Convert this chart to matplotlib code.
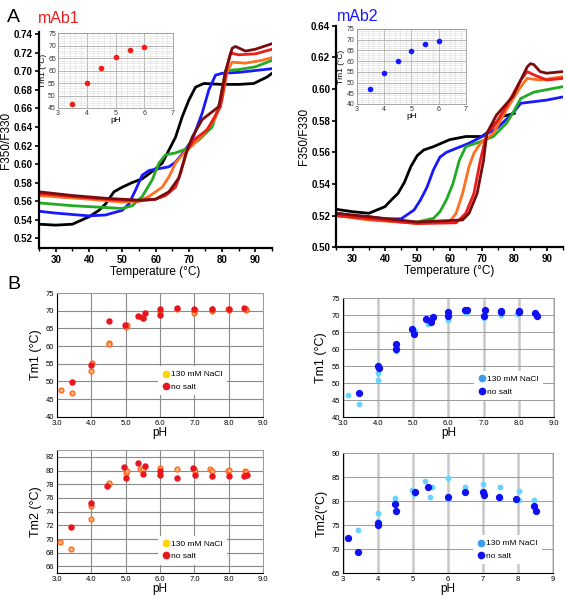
import matplotlib
matplotlib.use("Agg")
import matplotlib.pyplot as plt
from matplotlib.ticker import MultipleLocator, AutoMinorLocator, FormatStrFormatter
from matplotlib.lines import Line2D

plt.rcParams['font.family'] = ['Liberation Sans', 'DejaVu Sans']

# ---- Panel A: unfolding curves, mAb1 ----
black1_t = [25, 30, 35, 40, 43, 45, 47.5, 50, 53, 56, 59, 62, 64, 66, 68, 70, 72, 74.5, 80, 85, 89.5, 93.5, 95]
black1_v = [0.535, 0.534, 0.535, 0.543, 0.550, 0.557, 0.570, 0.575, 0.580, 0.584, 0.592, 0.601, 0.615, 0.629,
            0.651, 0.669, 0.683, 0.687, 0.686, 0.686, 0.687, 0.694, 0.698]
blue1_t = [25, 30, 40, 45, 50, 52, 54, 56, 58, 61, 64, 66, 68, 71, 74, 76, 78, 80, 85, 90, 95]
blue1_v = [0.549, 0.547, 0.544, 0.545, 0.550, 0.557, 0.572, 0.588, 0.593, 0.595, 0.597, 0.602, 0.611, 0.626,
           0.655, 0.680, 0.696, 0.698, 0.699, 0.701, 0.703]
green1_t = [25, 35, 45, 50, 53, 56, 59, 61, 63, 66, 69, 73, 77, 79.5, 81, 85, 90, 95]
green1_v = [0.558, 0.555, 0.553, 0.552, 0.555, 0.565, 0.583, 0.601, 0.610, 0.612, 0.616, 0.626, 0.640, 0.669,
            0.701, 0.702, 0.705, 0.712]
orange1_t = [25, 40, 50, 55, 58, 62, 64, 66, 68, 71, 75, 78, 80, 81.5, 83, 87, 92, 95]
orange1_v = [0.566, 0.562, 0.559, 0.560, 0.565, 0.575, 0.586, 0.601, 0.610, 0.620, 0.635, 0.650, 0.670, 0.700,
             0.710, 0.709, 0.712, 0.715]
red1_t = [25, 35, 45, 55, 60, 63, 66, 67.5, 69.5, 71.5, 75.5, 79.5, 81.5, 82.5, 85, 90, 95]
red1_v = [0.568, 0.565, 0.562, 0.560, 0.562, 0.566, 0.575, 0.590, 0.615, 0.626, 0.637, 0.662, 0.705, 0.720,
          0.718, 0.719, 0.724]
darkred1_t = [25, 35, 45, 55, 60, 64, 67, 69, 71, 74, 79, 81, 83, 84, 87, 90, 95]
darkred1_v = [0.570, 0.566, 0.563, 0.561, 0.562, 0.570, 0.585, 0.610, 0.629, 0.648, 0.662, 0.700, 0.725, 0.727,
              0.722, 0.724, 0.730]

# ---- Panel A: unfolding curves, mAb2 ----
black2_t = [25, 30, 35, 38, 40, 42, 44, 46, 48, 50, 52, 55, 60, 65, 70, 72, 74, 76, 80]
black2_v = [0.524, 0.5225, 0.5215, 0.524, 0.5257, 0.530, 0.534, 0.541, 0.551, 0.558, 0.5615, 0.5636, 0.568,
            0.570, 0.570, 0.573, 0.578, 0.5825, 0.5846]
blue2_t = [25, 30, 35, 40, 45, 49, 51, 53, 55, 57, 59, 62, 66, 70, 74.5, 79.5, 82, 86, 90, 95]
blue2_v = [0.5215, 0.520, 0.5194, 0.518, 0.518, 0.5236, 0.530, 0.538, 0.549, 0.557, 0.560, 0.5625, 0.5657,
           0.570, 0.575, 0.5846, 0.591, 0.592, 0.593, 0.595]
green2_t = [25, 35, 45, 50, 55, 57, 59, 61, 63, 65, 69.5, 73.5, 77.5, 79.5, 82, 86, 95]
green2_v = [0.5215, 0.518, 0.516, 0.516, 0.5183, 0.5225, 0.530, 0.540, 0.555, 0.5636, 0.5667, 0.570, 0.5783,
            0.5846, 0.594, 0.598, 0.6015]
orange2_t = [25, 35, 50, 60, 62, 64, 66, 67.5, 69.5, 73.5, 77.5, 82, 84, 88, 95]
orange2_v = [0.520, 0.5173, 0.5152, 0.5162, 0.5215, 0.534, 0.551, 0.5594, 0.5657, 0.572, 0.5867, 0.6015,
             0.6067, 0.6057, 0.6078]
red2_t = [25, 50, 62, 65, 67.5, 69.5, 71.5, 73.5, 77.5, 82, 84, 86, 90, 95]
red2_v = [0.520, 0.515, 0.5155, 0.5215, 0.534, 0.555, 0.572, 0.576, 0.589, 0.6057, 0.611, 0.609, 0.6057, 0.6067]
darkred2_t = [25, 50, 64, 66, 68.5, 70.5, 71.5, 74.5, 79.5, 84, 85, 86, 88, 90, 95]
darkred2_v = [0.5215, 0.516, 0.5173, 0.5215, 0.534, 0.555, 0.572, 0.5836, 0.5952, 0.614, 0.616, 0.6155,
              0.611, 0.610, 0.611]

# ---- insets ----
inset_ph = [3.5, 4.0, 4.5, 5.0, 5.5, 6.0]
inset1_tm = [46.5, 55, 61, 65.5, 68.3, 69.5]
inset2_tm = [47, 54.5, 60, 64.5, 68, 69.5]

# ---- Panel B: mAb1 Tm1 ----
b1_tm1_ph_nosalt = [3.45, 4.0, 4.5, 4.97, 5.37, 5.5, 5.55, 6.0, 6.0, 6.5, 7.0, 7.5, 8.0, 8.45]
b1_tm1_nosalt = [49.7, 54.7, 67.2, 65.9, 68.5, 68.0, 69.3, 70.5, 68.9, 70.7, 70.6, 70.6, 70.5, 70.7]
b1_tm1_ph_salt = [3.12, 3.45, 4.02, 4.0, 4.5, 4.52, 5.0, 5.05, 5.45, 5.5, 6.0, 6.5, 7.0, 7.02, 7.5, 7.5,
                  8.0, 7.97, 8.5, 8.5]
b1_tm1_salt = [47.5, 46.6, 55.2, 53.0, 61.0, 60.5, 65.3, 66.0, 68.3, 68.0, 69.7, 70.4, 69.3, 70.3, 70.0, 70.5,
               70.3, 70.4, 70.3, 70.6]

# ---- Panel B: mAb2 Tm1 ----
b2_tm1_ph_nosalt = [3.45, 4.0, 4.02, 4.5, 4.5, 4.97, 5.02, 5.37, 5.5, 5.55, 6.0, 6.0, 6.47, 6.53, 7.0, 7.03,
                    7.5, 7.5, 8.0, 8.0, 8.47, 8.52]
b2_tm1_nosalt = [47.0, 55.0, 54.5, 61.4, 60.0, 66.0, 64.6, 68.9, 67.9, 69.4, 71.1, 69.7, 71.5, 71.5, 69.9, 71.6,
                 71.4, 71.0, 71.3, 70.9, 70.8, 69.8]
b2_tm1_ph_salt = [3.15, 3.45, 4.0, 4.0, 4.52, 5.05, 5.42, 6.0, 6.5, 7.0, 7.5, 7.95, 8.5]
b2_tm1_salt = [46.4, 43.9, 52.9, 51.0, 59.5, 65.5, 67.5, 68.7, 70.7, 69.3, 70.0, 70.4, 70.6]

# ---- Panel B: mAb1 Tm2 ----
b1_tm2_ph_nosalt = [3.42, 4.0, 4.47, 4.95, 5.0, 5.35, 5.5, 5.55, 6.0, 6.0, 6.5, 6.97, 7.02, 7.5, 8.0, 8.45, 8.52]
b1_tm2_nosalt = [71.7, 75.2, 77.7, 80.5, 78.9, 81.05, 79.45, 80.7, 79.9, 79.3, 78.9, 80.4, 79.4, 79.2, 79.2,
                 79.2, 79.4]
b1_tm2_ph_salt = [3.1, 3.42, 4.0, 4.0, 4.5, 4.52, 5.0, 5.05, 5.42, 5.5, 6.0, 6.5, 7.0, 7.02, 7.47, 7.5,
                  7.97, 8.0, 8.47, 8.5]
b1_tm2_salt = [69.5, 68.6, 74.8, 72.9, 78.0, 78.2, 79.6, 80.0, 80.3, 80.3, 80.4, 80.2, 80.2, 80.0, 80.2, 79.9,
               79.9, 80.1, 79.9, 79.8]

# ---- Panel B: mAb2 Tm2 ----
b2_tm2_ph_nosalt = [3.15, 3.45, 4.0, 4.0, 4.5, 4.53, 5.05, 5.42, 6.0, 6.5, 7.0, 7.02, 7.47, 7.95, 8.47, 8.52]
b2_tm2_nosalt = [72.4, 69.5, 75.5, 75.0, 79.5, 78.0, 82.0, 83.0, 81.0, 82.0, 82.0, 81.3, 81.0, 80.5, 79.0, 78.0]
b2_tm2_ph_salt = [3.45, 4.0, 4.0, 4.5, 4.5, 4.97, 5.02, 5.35, 5.5, 5.55, 6.0, 6.0, 6.5, 7.0, 7.02, 7.5, 7.5,
                  8.02, 8.02, 8.45]
b2_tm2_salt = [74.0, 77.6, 76.0, 80.6, 80.0, 82.4, 81.5, 84.2, 81.0, 83.0, 84.9, 80.5, 83.0, 83.6, 82.0, 83.0,
               80.7, 82.2, 80.2, 80.2]

darkred = '#7a0c0c'
red = '#ee1c1c'
orange = '#ff7020'
green = '#22aa22'
blue = '#1818ff'

fig = plt.figure(figsize=(5.66, 5.99), dpi=100)


def style_a(ax, ylim, yticks):
    ax.set_xlim(25, 95)
    ax.set_ylim(*ylim)
    ax.set_yticks(yticks)
    ax.set_xticks(range(30, 100, 10))
    ax.xaxis.set_minor_locator(MultipleLocator(5))
    ax.yaxis.set_major_formatter(FormatStrFormatter('%.2f'))
    for s in ['top', 'right']:
        ax.spines[s].set_visible(False)
    for s in ['left', 'bottom']:
        ax.spines[s].set_linewidth(1.6)
    ax.tick_params(which='major', direction='out', length=3, width=1.2, labelsize=7, pad=1.5)
    ax.tick_params(which='minor', direction='out', length=2, width=1)
    for lab in ax.get_xticklabels() + ax.get_yticklabels():
        lab.set_fontweight('bold')
    ax.set_xlabel('Temperature (°C)', fontsize=8.5, labelpad=1)
    ax.set_ylabel('F350/F330', fontsize=8.5, labelpad=1)


# A left (mAb1)
ax1 = fig.add_axes([0.069, 0.5855, 0.4117, 0.3617])
for t, v, c in [(black1_t, black1_v, 'black'), (blue1_t, blue1_v, blue), (green1_t, green1_v, green),
                (orange1_t, orange1_v, orange), (red1_t, red1_v, red), (darkred1_t, darkred1_v, darkred)]:
    ax1.plot(t, v, color=c, lw=2)
style_a(ax1, (0.509, 0.743), [0.52 + 0.02 * i for i in range(12)])

# A right (mAb2)
ax2 = fig.add_axes([0.5945, 0.5871, 0.3998, 0.370])
for t, v, c in [(black2_t, black2_v, 'black'), (blue2_t, blue2_v, blue), (green2_t, green2_v, green),
                (orange2_t, orange2_v, orange), (red2_t, red2_v, red), (darkred2_t, darkred2_v, darkred)]:
    ax2.plot(t, v, color=c, lw=2)
style_a(ax2, (0.50, 0.64), [0.50 + 0.02 * i for i in range(8)])


def style_inset(ax, ylim):
    ax.set_xlim(3, 7)
    ax.set_ylim(*ylim)
    ax.xaxis.set_major_locator(MultipleLocator(1))
    ax.yaxis.set_major_locator(MultipleLocator(5))
    ax.xaxis.set_minor_locator(AutoMinorLocator(5))
    ax.yaxis.set_minor_locator(AutoMinorLocator(5))
    ax.grid(which='major', color='#aaaaaa', lw=0.6)
    ax.grid(which='minor', color='#dddddd', lw=0.4)
    ax.set_axisbelow(True)
    for s in ax.spines.values():
        s.set_color('#999999')
        s.set_linewidth(0.6)
    ax.tick_params(which='both', length=0, labelsize=5, pad=1.5, colors='#333333')
    ax.set_xlabel('pH', fontsize=6, labelpad=0)
    ax.set_ylabel('Tm1 (°C)', fontsize=6, labelpad=1)


axi1 = fig.add_axes([0.1025, 0.8197, 0.2032, 0.1252])
axi1.plot(inset_ph, inset1_tm, 'o', color=red, ms=3)
style_inset(axi1, (45, 75))

axi2 = fig.add_axes([0.6302, 0.8264, 0.1931, 0.1252])
axi2.plot(inset_ph, inset2_tm, 'o', color=blue, ms=3)
style_inset(axi2, (40, 75))


def style_b(ax, ylim, ystep, ylabel, fmt, right):
    ax.set_xlim(3, 9)
    ax.set_ylim(*ylim)
    ax.xaxis.set_major_locator(MultipleLocator(1))
    ax.yaxis.set_major_locator(MultipleLocator(ystep))
    ax.xaxis.set_major_formatter(FormatStrFormatter(fmt))
    if right:
        ax.grid(axis='x', color='#c8c8c8', lw=1.8)
        ax.grid(axis='y', color='#9a9a9a', lw=0.7)
    else:
        ax.grid(color='#8a8a8a', lw=0.8)
    ax.set_axisbelow(True)
    for s in ['top', 'right']:
        ax.spines[s].set_color('#9a9a9a')
        ax.spines[s].set_linewidth(0.7)
    for s in ['left', 'bottom']:
        ax.spines[s].set_color('black')
        ax.spines[s].set_linewidth(0.8)
    ax.tick_params(length=0, labelsize=5.5, pad=2)
    ax.set_xlabel('pH', fontsize=8.5, labelpad=0)
    ax.set_ylabel(ylabel, fontsize=9, labelpad=3)


def legend_b(ax, c_salt, c_nosalt, anchor):
    handles = [Line2D([], [], ls='', marker='o', ms=4.5, color=c_salt),
               Line2D([], [], ls='', marker='o', ms=4.5, color=c_nosalt)]
    leg = ax.legend(handles, ['130 mM NaCl', 'no salt'], loc='upper left', bbox_to_anchor=anchor,
                    fontsize=6, frameon=True, handletextpad=0.1, handlelength=1.0, labelspacing=0.6,
                    borderpad=0.5, fancybox=False)
    leg.get_frame().set_edgecolor('none')
    leg.get_frame().set_facecolor('white')
    leg.get_frame().set_alpha(1)


# B top-left (mAb1 Tm1)
axb1 = fig.add_axes([0.1007, 0.3043, 0.364, 0.2065])
axb1.scatter(b1_tm1_ph_salt, b1_tm1_salt, s=12, facecolor='#ffb27a', edgecolor='#ff6a1e', lw=1, zorder=3)
axb1.scatter(b1_tm1_ph_nosalt, b1_tm1_nosalt, s=13, color='#e8141e', zorder=3)
style_b(axb1, (40, 75), 5, 'Tm1 (°C)', '%.1f', False)
legend_b(axb1, '#ffd400', '#e8141e', (0.47, 0.44))

# B top-right (mAb2 Tm1)
axb2 = fig.add_axes([0.6055, 0.3038, 0.3733, 0.1982])
axb2.scatter(b2_tm1_ph_salt, b2_tm1_salt, s=10, color='#66d4ff', zorder=3)
axb2.scatter(b2_tm1_ph_nosalt, b2_tm1_nosalt, s=18, color='#1010f0', zorder=3)
style_b(axb2, (40, 75), 5, 'Tm1 (°C)', '%.1f', True)
legend_b(axb2, '#3a9cf0', '#1010f0', (0.6, 0.42))

# B bottom-left (mAb1 Tm2)
axb3 = fig.add_axes([0.1007, 0.0429, 0.364, 0.2058])
axb3.scatter(b1_tm2_ph_salt, b1_tm2_salt, s=12, facecolor='#ffb27a', edgecolor='#ff6a1e', lw=1, zorder=3)
axb3.scatter(b1_tm2_ph_nosalt, b1_tm2_nosalt, s=13, color='#e8141e', zorder=3)
style_b(axb3, (65, 83), 2, 'Tm2 (°C)', '%.1f', False)
legend_b(axb3, '#ffd400', '#e8141e', (0.47, 0.34))

# B bottom-right (mAb2 Tm2)
axb4 = fig.add_axes([0.6055, 0.0429, 0.3716, 0.2003])
axb4.scatter(b2_tm2_ph_salt, b2_tm2_salt, s=10, color='#66d4ff', zorder=3)
axb4.scatter(b2_tm2_ph_nosalt, b2_tm2_nosalt, s=18, color='#1010f0', zorder=3)
style_b(axb4, (65, 90), 5, 'Tm2(°C)', '%d', True)
legend_b(axb4, '#3a9cf0', '#1010f0', (0.6, 0.35))

# panel letters and titles
fig.text(0.013, 0.985, 'A', fontsize=14, va='top')
fig.text(0.013, 0.540, 'B', fontsize=14, va='top')
fig.text(0.067, 0.962, 'mAb1', fontsize=11.5, color='#ee1c1c')
fig.text(0.595, 0.965, 'mAb2', fontsize=11.5, color='#1818ff')

fig.savefig('out.png', dpi=100)
